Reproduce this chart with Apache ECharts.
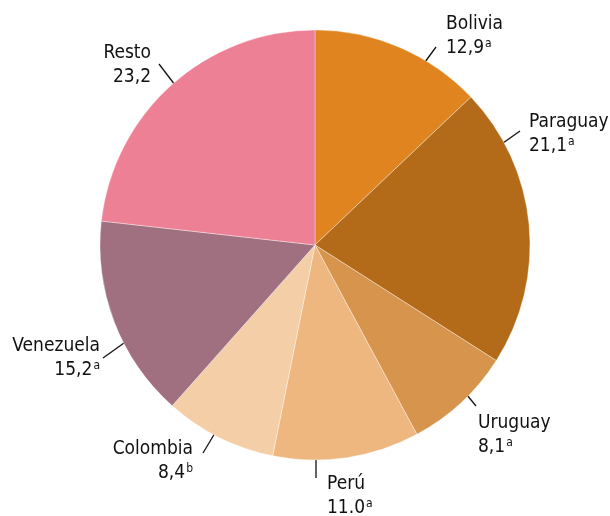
<!DOCTYPE html>
<html>
<head>
<meta charset="utf-8">
<script src="https://cdn.jsdelivr.net/npm/echarts@6/dist/echarts.min.js"></script>
<style>
	html, body {margin: 0; padding: 0; background: #fff;}
	#chart {width: 610px; height: 516px;}
</style>
</head>
<body>
<div id="chart"></div>
<script>
	var countries = ['Bolivia', 'Paraguay', 'Uruguay', 'Perú', 'Colombia', 'Venezuela', 'Resto'];
	var shares = [12.9, 21.1, 8.1, 11.0, 8.4, 15.2, 23.2];
	var shareLabels = ['12,9', '21,1', '8,1', '11.0', '8,4', '15,2', '23,2'];
	var notes = ['a', 'a', 'a', 'a', 'b', 'a', ''];
	var colors = ['#DF841F', '#B36B19', '#D7944D', '#EDB77F', '#F3CEA6', '#A07080', '#EE8095'];

	// label placement (text anchor x, top y, align, label line start/end)
	var labelPlaces = [
		{x: 446, y: 12, align: 'left', line: [[425, 62], [436, 47]]},
		{x: 529, y: 110, align: 'left', line: [[503, 143], [520, 131]]},
		{x: 478, y: 411, align: 'left', line: [[467, 395], [476, 406]]},
		{x: 327, y: 472, align: 'left', line: [[316, 458], [316, 478]]},
		{x: 193, y: 437, align: 'right', line: [[215, 433], [203, 453]]},
		{x: 100, y: 334, align: 'right', line: [[124, 343], [103, 358]]},
		{x: 151, y: 41, align: 'right', line: [[175, 85], [159, 64]]}
	];

	var font = '"Liberation Sans Narrow", "DejaVu Sans Condensed", sans-serif';

	var data = [];
	for (var i = 0; i < countries.length; i++) {
		data.push({
			name: countries[i],
			value: shares[i],
			itemStyle: {color: colors[i]}
		});
	}

	var chart = echarts.init(document.getElementById('chart'));
	chart.setOption({
		animation: false,
		series: [
			{
				type: 'pie',
				center: [315, 245],
				radius: [0, 215],
				startAngle: 90,
				clockwise: true,
				data: data,
				itemStyle: {
					borderColor: 'rgba(255,255,255,0.6)',
					borderWidth: 0.6
				},
				label: {
					show: true,
					position: 'outside',
					alignTo: 'none',
					overflow: 'none',
					color: '#111',
					fontFamily: font,
					fontSize: 19,
					lineHeight: 24,
					formatter: function (p) {
						var n = notes[p.dataIndex];
						return p.name + '\n' + shareLabels[p.dataIndex] + (n ? '{sup|' + n + '}' : '');
					},
					rich: {
						sup: {
							fontSize: 12,
							color: '#111',
							fontFamily: font,
							padding: [0, 0, 9, 1]
						}
					}
				},
				labelLine: {
					show: true,
					length: 20,
					length2: 0,
					lineStyle: {color: '#111', width: 1.3}
				},
				labelLayout: function (params) {
					var p = labelPlaces[params.dataIndex];
					return {
						x: p.x,
						y: p.y,
						align: p.align,
						verticalAlign: 'top',
						labelLinePoints: [p.line[0], p.line[1], p.line[1]]
					};
				}
			}
		]
	});
</script>
</body>
</html>
